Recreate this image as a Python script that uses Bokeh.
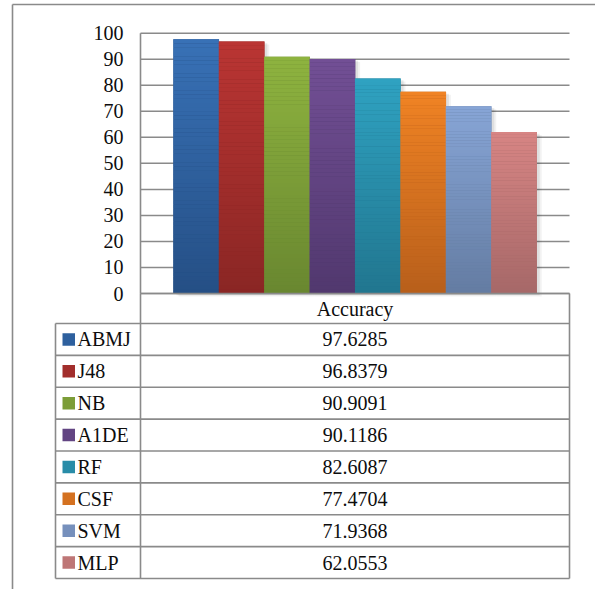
from bokeh.plotting import figure
from bokeh.models import Range1d, LinearAxis, FixedTicker, ColumnDataSource
from bokeh.embed import file_html
from bokeh.resources import INLINE
from bokeh.core.properties import value

# ---- data -----------------------------------------------------------------
methods = ["ABMJ", "J48", "NB", "A1DE", "RF", "CSF", "SVM", "MLP"]
accuracy = [97.6285, 96.8379, 90.9091, 90.1186, 82.6087, 77.4704, 71.9368, 62.0553]
y_ticks = [0, 10, 20, 30, 40, 50, 60, 70, 80, 90, 100]
column_title = "Accuracy"

# gradient end colours of each bar (top, bottom)
top_colors = ["#3871B6", "#BA3533", "#8EB33F", "#724F95",
              "#2FA2C1", "#F08324", "#87A5D6", "#D78584"]
bottom_colors = ["#254F85", "#8A2624", "#698730", "#51386E",
                 "#21768F", "#B85F1B", "#647CA2", "#A66868"]

# ---- page geometry (screen pixels) ------------------------------------------
W, H = 595, 589
ZERO_PX, FULL_PX = 293.0, 32.7          # screen rows of 0 and 100
UNIT = (ZERO_PX - FULL_PX) / 100.0      # pixels per accuracy point
PLOT_L, PLOT_R = 140.0, 569.0
BARS_L, SLOT = 173.0, 45.4
LEG_L = 55.0
HEAD_B, TABLE_B = 323.0, 578.0
ROW_H = (TABLE_B - HEAD_B) / len(methods)
FONT_NAME = "Liberation Serif"
FONT = value(FONT_NAME)
INK = "#0d0d0d"
LINE = "#8a8a8a"


def yv(py):
    """screen row -> data value"""
    return (ZERO_PX - py) / UNIT


def hex_rgb(h):
    return tuple(int(h[i:i + 2], 16) for i in (1, 3, 5))


def mix(c0, c1, t):
    a, b = hex_rgb(c0), hex_rgb(c1)
    return "#%02x%02x%02x" % tuple(round(a[k] + (b[k] - a[k]) * t) for k in range(3))


p = figure(width=W, height=H, x_range=Range1d(0, W), y_range=Range1d(yv(H), yv(0)),
           x_axis_type=None, y_axis_type=None, output_backend="svg",
           toolbar_location=None, min_border=0, outline_line_color=None)
p.background_fill_color = "white"
p.border_fill_color = "white"

# outer chart frame
p.segment(x0=[12, 12], y0=[yv(4), yv(4)], x1=[12, W], y1=[yv(H), yv(4)],
          line_color=LINE, line_width=1.6)

# horizontal gridlines of the plot area
p.segment(x0=[PLOT_L] * len(y_ticks), y0=y_ticks, x1=[PLOT_R] * len(y_ticks), y1=y_ticks,
          line_color=LINE, line_width=1.5)

# bar positions from category index
centers = [BARS_L + SLOT * (i + 0.5) for i in range(len(methods))]

# soft drop shadow behind the bars
for off, alpha in ((5, 0.05), (3, 0.08)):
    p.quad(left=[c - SLOT / 2 + off for c in centers],
           right=[c + SLOT / 2 + off for c in centers],
           bottom=[-off * 0.6 / UNIT] * len(centers),
           top=[v - off * 0.6 / UNIT for v in accuracy],
           fill_color="black", fill_alpha=alpha, line_color=None)

# bars
src = ColumnDataSource(dict(x=centers, top=accuracy, method=methods, color=bottom_colors))
p.vbar(x="x", top="top", bottom=0, width=SLOT + 0.3, fill_color="color",
       line_color=None, source=src)

# vertical shading of each bar (bottom colour -> top colour)
N = 60
gl, gr, gb, gt, gc = [], [], [], [], []
for c, v, tc, bc in zip(centers, accuracy, top_colors, bottom_colors):
    for k in range(N):
        gl.append(c - SLOT / 2 - 0.15)
        gr.append(c + SLOT / 2 + 0.15)
        gb.append(v * k / N)
        gt.append(v * (k + 1) / N + (0.02 if k < N - 1 else 0))
        gc.append(mix(bc, tc, (k + 0.5) / N))
p.quad(left=gl, right=gr, bottom=gb, top=gt, fill_color=gc, line_color=None)

# ---- data table below the plot ----------------------------------------------
row_edges = [HEAD_B + ROW_H * i for i in range(len(methods) + 1)]
p.segment(x0=[LEG_L] * len(row_edges), y0=[yv(r) for r in row_edges],
          x1=[PLOT_R] * len(row_edges), y1=[yv(r) for r in row_edges],
          line_color=LINE, line_width=1.6)
p.segment(x0=[PLOT_L, PLOT_L], y0=[0, 0], x1=[PLOT_R, PLOT_L], y1=[0, yv(TABLE_B)],
          line_color=LINE, line_width=1.6)
p.segment(x0=[PLOT_L, LEG_L, PLOT_R], y0=[100, yv(HEAD_B), 0],
          x1=[PLOT_L, LEG_L, PLOT_R], y1=[0, yv(TABLE_B), yv(TABLE_B)],
          line_color=LINE, line_width=1.6)

row_mid = [yv(HEAD_B + ROW_H * (i + 0.5)) for i in range(len(methods))]
value_x = (PLOT_L + PLOT_R) / 2

p.text(x=[value_x], y=[yv((ZERO_PX + HEAD_B) / 2)], text=[column_title],
       text_font=FONT, text_font_size="20px", text_color=INK,
       text_align="center", text_baseline="middle")
p.text(x=[value_x] * len(methods), y=row_mid, text=[f"{v:.4f}" for v in accuracy],
       text_font=FONT, text_font_size="20px", text_color=INK,
       text_align="center", text_baseline="middle")
p.text(x=[77] * len(methods), y=row_mid, text=methods,
       text_font=FONT, text_font_size="20px", text_color=INK,
       text_align="left", text_baseline="middle")

# legend keys
key = 12.5 / UNIT
p.quad(left=[62] * len(methods), right=[74.5] * len(methods),
       bottom=[m - key / 2 for m in row_mid], top=[m + key / 2 for m in row_mid],
       fill_color=[mix(b, t, 0.5) for b, t in zip(bottom_colors, top_colors)],
       line_color=None)

# value axis pinned to the left edge of the plot area
yaxis = LinearAxis(fixed_location=PLOT_L, ticker=FixedTicker(ticks=y_ticks), bounds=(0, 100),
                   axis_line_color=None, major_tick_line_color=None,
                   minor_tick_line_color=None, major_tick_in=0, major_tick_out=0,
                   major_label_standoff=17, major_label_text_font=FONT_NAME,
                   major_label_text_font_size="20px", major_label_text_color=INK)
p.add_layout(yaxis, "left")

open("out.html", "w").write(file_html(p, INLINE))
